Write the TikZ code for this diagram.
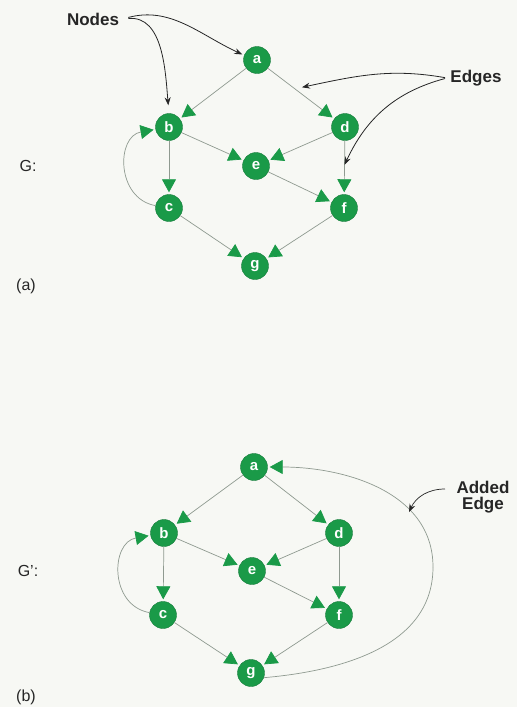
\documentclass[tikz,border=0pt]{standalone}
\usepackage{fontspec}
\setmainfont{Liberation Sans}
\usetikzlibrary{arrows.meta}
\definecolor{ngreen}{HTML}{1A9A48}
\definecolor{egray}{HTML}{8F9A90}
\definecolor{bg}{HTML}{F7F8F4}
\tikzset{
  gnode/.style={circle,fill=ngreen,draw=ngreen!80!black,line width=0.4pt,minimum size=27pt,inner sep=0pt,text=white,font=\fontsize{15}{15}\selectfont\bfseries},
  edge/.style={draw=egray,line width=0.7pt,-{Triangle[length=13pt,width=14pt,fill=ngreen,color=ngreen]},shorten >=2pt},
  lab/.style={draw=black!85,line width=0.8pt,-{Stealth[length=8pt,width=6pt]}},
  bigtxt/.style={font=\fontsize{17}{17}\selectfont\bfseries,text=black!85,align=center},
  reg/.style={font=\fontsize{16}{16}\selectfont,text=black!85}
}
\begin{document}
\begin{tikzpicture}[x=1pt,y=1pt]
\fill[bg] (0,0) rectangle (517,-707);
\useasboundingbox (0,0) rectangle (517,-707);
% ---- (a) ----
\node[gnode] (a1) at (257,-60) {a};
\node[gnode] (b1) at (169,-127) {b};
\node[gnode] (d1) at (345,-127) {d};
\node[gnode] (e1) at (256,-166) {e};
\node[gnode] (c1) at (169,-208) {c};
\node[gnode] (f1) at (344,-208) {f};
\node[gnode] (g1) at (255,-266) {g};
\draw[edge] (a1) -- (b1);
\draw[edge] (a1) -- (d1);
\draw[edge] (b1) -- (e1);
\draw[edge] (b1) -- (c1);
\draw[edge] (d1) -- (e1);
\draw[edge] (d1) -- (f1);
\draw[edge] (e1) -- (f1);
\draw[edge] (c1) -- (g1);
\draw[edge] (f1) -- (g1);
\draw[edge] (c1) to[out=170,in=190,looseness=1.35] (b1);
\node[bigtxt] (nodes) at (93,-19) {Nodes};
\node[bigtxt] (edges) at (476,-78) {Edges};
\node[reg] (G1) at (28,-166) {G:};
\node[reg] (pa) at (26,-286) {(a)};
\path (a1) -- (d1) coordinate[pos=0.5] (ad);
\path (d1) -- (f1) coordinate[pos=0.45] (df);
\draw[lab,shorten <=6pt,shorten >=8pt] (nodes.east) to[out=5,in=95] (b1.north);
\draw[lab,shorten <=6pt,shorten >=2pt] (nodes.east) to[out=15,in=155] (a1.160);
\draw[lab,shorten <=2pt,shorten >=1pt] (edges.west) to[out=170,in=12] ([yshift=6pt]ad);
\draw[lab,shorten <=2pt] (edges.west) to[out=195,in=65] (df);
% ---- (b) ----
\node[gnode] (a2) at (254,-467) {a};
\node[gnode] (b2) at (164,-533) {b};
\node[gnode] (d2) at (339,-533) {d};
\node[gnode] (e2) at (252,-571) {e};
\node[gnode] (c2) at (163,-615) {c};
\node[gnode] (f2) at (339,-615) {f};
\node[gnode] (g2) at (251,-673) {g};
\draw[edge] (a2) -- (b2);
\draw[edge] (a2) -- (d2);
\draw[edge] (b2) -- (e2);
\draw[edge] (b2) -- (c2);
\draw[edge] (d2) -- (e2);
\draw[edge] (d2) -- (f2);
\draw[edge] (e2) -- (f2);
\draw[edge] (c2) -- (g2);
\draw[edge] (f2) -- (g2);
\draw[edge] (c2) to[out=170,in=190,looseness=1.35] (b2);
\coordinate (rx) at (433,-567);
\draw[draw=egray,line width=0.7pt] (g2.-20) to[out=5,in=-90] (rx);
\draw[edge] (rx) to[out=90,in=0] (a2);
\node[bigtxt,font=\fontsize{17}{16}\selectfont\bfseries] (added) at (483,-497) {Added\\Edge};
\coordinate (ae) at (409,-512);
\draw[lab,line width=0.7pt] (445,-489) to[out=180,in=65] (ae);
\node[reg] (G2) at (28,-571) {G':};
\node[reg] (pb) at (26,-697) {(b)};
\end{tikzpicture}
\end{document}
